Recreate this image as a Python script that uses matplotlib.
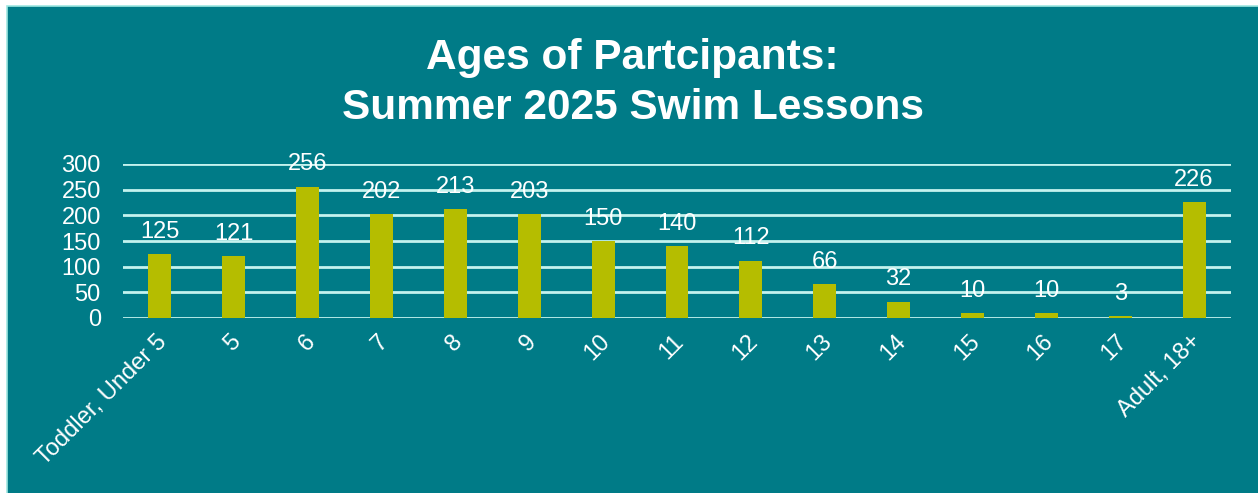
import matplotlib.pyplot as plt
from matplotlib.patches import Rectangle

# data
ages = ["Toddler, Under 5", "5", "6", "7", "8", "9", "10", "11", "12",
        "13", "14", "15", "16", "17", "Adult, 18+"]
counts = [125, 121, 256, 202, 213, 203, 150, 140, 112, 66, 32, 10, 10, 3, 226]
yticks = [0, 50, 100, 150, 200, 250, 300]

teal = "#007B87"
bar_col = "#B5BD00"
grid_col = "#C4F2EE"

plt.rcParams['font.family'] = ['Liberation Sans', 'DejaVu Sans']

fig = plt.figure(figsize=(12.58, 4.93), dpi=100, facecolor="white")
# teal panel behind everything
fig.patches.append(Rectangle((7 / 1258, -0.01), 1.01, 487 / 493 + 0.01,
                             transform=fig.transFigure, facecolor=teal,
                             edgecolor="#9FE8E2", linewidth=1.2, zorder=-10))

ax = fig.add_axes([123 / 1258, 175 / 493, 1108 / 1258, 154 / 493])
ax.set_facecolor("none")

x = list(range(len(ages)))
ax.bar(x, counts, width=0.31, color=bar_col, zorder=3)
for xi, v in zip(x, counts):
    ax.annotate(str(v), (xi, v), xytext=(0, 8), textcoords="offset points",
                ha="center", va="bottom", color="white", fontsize=17,
                annotation_clip=False, zorder=4)

ax.set_xlim(-0.5, len(ages) - 0.5)
ax.set_ylim(0, 300)
ax.set_yticks(yticks)
ax.yaxis.grid(True, color=grid_col, linewidth=2)
ax.set_axisbelow(True)
for s in ax.spines.values():
    s.set_visible(False)
ax.tick_params(axis="both", length=0, colors="white", labelsize=17)
ax.tick_params(axis="y", pad=16)
ax.tick_params(axis="x", pad=9)
ax.set_xticks(x)
ax.set_xticklabels(ages, rotation=45, ha="right", va="top", rotation_mode="anchor")
# nudge the rotated labels slightly left, as in the original
from matplotlib.transforms import ScaledTranslation
for lab in ax.get_xticklabels():
    lab.set_transform(lab.get_transform() + ScaledTranslation(-4 / 100, 0, fig.dpi_scale_trans))

fig.text(0.503, 0.882, "Ages of Partcipants:", ha="center", va="center",
         color="white", fontsize=30.5, fontweight="bold")
fig.text(0.503, 0.781, "Summer 2025 Swim Lessons", ha="center", va="center",
         color="white", fontsize=30.5, fontweight="bold")

fig.savefig("out.png", dpi=100, facecolor="white")
